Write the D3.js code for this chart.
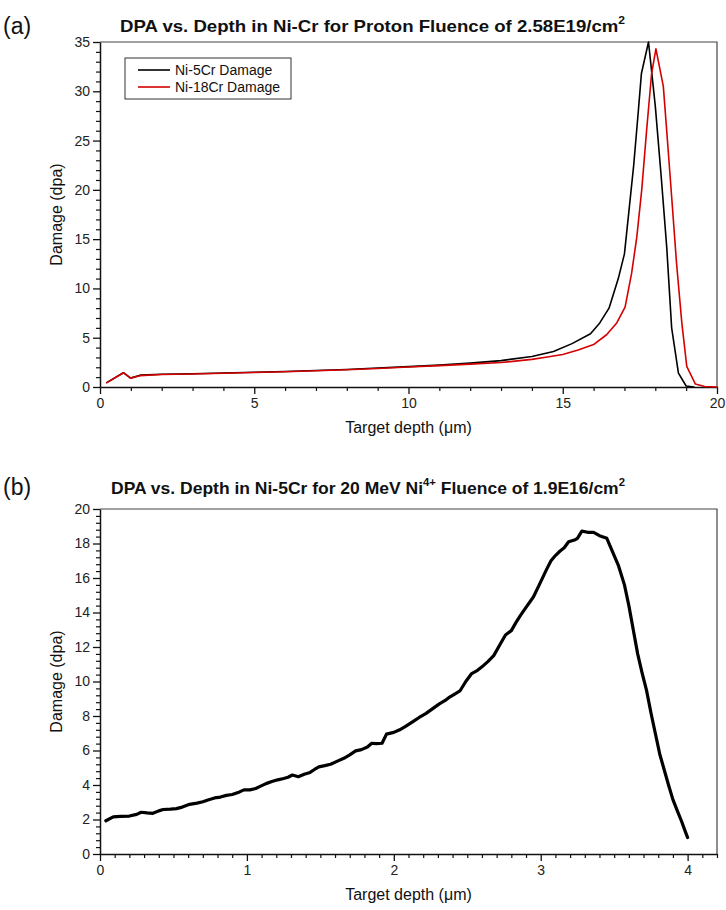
<!DOCTYPE html>
<html><head><meta charset="utf-8">
<script src="https://cdn.jsdelivr.net/npm/d3@7"></script>
<style>body{margin:0;background:#fff}svg{display:block}text{font-family:"Liberation Sans",Arial,sans-serif}</style>
</head><body>
<svg id="c" width="726" height="910"></svg>
<script>
// ---------- data: panel (a) proton damage ----------
const depthA5 = [0.22,0.76,0.99,1.3,2,3,4,5,6,7,8,9,10,11,12,13,14,14.7,15.3,15.9,16.2,16.5,16.8,17.0,17.15,17.3,17.45,17.55,17.78,18.0,18.2,18.37,18.53,18.75,19.0,19.25];
const dpaA5   = [0.45,1.45,0.9,1.2,1.3,1.35,1.42,1.5,1.58,1.68,1.78,1.92,2.07,2.22,2.42,2.68,3.1,3.6,4.4,5.4,6.5,8.0,11.0,13.5,18.0,22.5,28.0,31.8,35.0,28.5,21.0,14.2,6.0,1.4,0.1,0.0];
const depthA18 = [0.22,0.76,0.99,1.3,2,3,4,5,6,7,8,9,10,11,12,13,14,14.5,15,15.5,16,16.42,16.75,17.02,17.23,17.4,17.56,17.72,17.88,18.02,18.26,18.37,18.53,18.69,18.86,19.02,19.3,19.6,20];
const dpaA18   = [0.45,1.45,0.9,1.15,1.27,1.32,1.4,1.47,1.55,1.65,1.75,1.88,2.03,2.17,2.32,2.48,2.8,3.05,3.3,3.75,4.3,5.3,6.5,8.1,11.5,15.2,20.0,26.1,31.8,34.3,30.5,26.0,19.3,12.5,6.5,2.1,0.3,0.05,0.0];
const seriesNamesA = ["Ni-5Cr Damage","Ni-18Cr Damage"];
const seriesColorsA = ["#000000","#d40000"];

// ---------- data: panel (b) Ni ion damage ----------
const depthB = [0.04,0.09,0.14,0.20,0.25,0.28,0.32,0.36,0.40,0.43,0.48,0.52,0.56,0.61,0.66,0.70,0.74,0.78,0.82,0.86,0.90,0.95,0.98,1.02,1.06,1.09,1.13,1.17,1.21,1.25,1.28,1.31,1.35,1.39,1.43,1.46,1.49,1.53,1.57,1.62,1.66,1.70,1.74,1.78,1.82,1.85,1.88,1.92,1.95,2.00,2.04,2.08,2.13,2.17,2.22,2.26,2.31,2.35,2.38,2.42,2.45,2.49,2.53,2.57,2.60,2.64,2.68,2.72,2.76,2.80,2.83,2.86,2.90,2.95,2.99,3.04,3.07,3.10,3.13,3.16,3.19,3.23,3.25,3.28,3.32,3.36,3.40,3.45,3.49,3.53,3.57,3.60,3.63,3.66,3.69,3.72,3.75,3.78,3.81,3.84,3.87,3.90,3.93,3.96,3.98,4.00];
const dpaB   = [1.93,2.15,2.18,2.2,2.3,2.42,2.38,2.36,2.5,2.58,2.6,2.63,2.72,2.88,2.95,3.03,3.15,3.25,3.3,3.4,3.45,3.6,3.72,3.72,3.8,3.92,4.08,4.2,4.3,4.38,4.45,4.58,4.48,4.62,4.73,4.9,5.05,5.12,5.2,5.4,5.55,5.75,5.98,6.05,6.2,6.42,6.4,6.42,6.95,7.05,7.2,7.4,7.67,7.9,8.15,8.4,8.7,8.9,9.1,9.3,9.45,10.0,10.46,10.65,10.85,11.15,11.5,12.1,12.7,12.95,13.4,13.8,14.3,14.9,15.6,16.5,17.0,17.3,17.55,17.75,18.1,18.2,18.3,18.72,18.65,18.65,18.45,18.3,17.5,16.7,15.6,14.4,13.0,11.6,10.5,9.5,8.2,7.0,5.8,4.9,4.0,3.15,2.5,1.87,1.4,0.95];

// ---------- tick specs ----------
const xMajorA = [0,5,10,15,20], yMajorA = [0,5,10,15,20,25,30,35];
const xMajorB = [0,1,2,3,4],   yMajorB = [0,2,4,6,8,10,12,14,16,18,20];

const svg = d3.select("#c");

function panel(o){
  const g = svg.append("g");
  const x = d3.scaleLinear().domain(o.xDom).range([o.l, o.r]);
  const y = d3.scaleLinear().domain(o.yDom).range([o.b, o.t]);
  g.append("path").attr("d",`M${o.l},${o.t}H${o.r}V${o.b}`).attr("fill","none").attr("stroke","#444").attr("stroke-width",1.2);
  const xMinor = d3.range(o.xDom[0], o.xDom[1]+1e-9, o.xMinor).filter(v=>!o.xMajor.some(m=>Math.abs(m-v)<1e-6));
  const yMinor = d3.range(o.yDom[0], o.yDom[1]+1e-9, o.yMinor).filter(v=>!o.yMajor.some(m=>Math.abs(m-v)<1e-6));
  g.append("g").attr("transform",`translate(0,${o.b})`).call(d3.axisBottom(x).tickValues(xMinor).tickSize(4).tickSizeOuter(0).tickFormat(""))
    .call(s=>{s.select(".domain").remove(); s.selectAll("line").attr("stroke","#111").attr("stroke-width",1.2);});
  g.append("g").attr("transform",`translate(${o.l},0)`).call(d3.axisLeft(y).tickValues(yMinor).tickSize(4).tickSizeOuter(0).tickFormat(""))
    .call(s=>{s.select(".domain").remove(); s.selectAll("line").attr("stroke","#111").attr("stroke-width",1.2);});
  const xa = g.append("g").attr("transform",`translate(0,${o.b})`).call(d3.axisBottom(x).tickValues(o.xMajor).tickSize(7).tickSizeOuter(0).tickPadding(4).tickFormat(d3.format("d")));
  const ya = g.append("g").attr("transform",`translate(${o.l},0)`).call(d3.axisLeft(y).tickValues(o.yMajor).tickSize(7).tickSizeOuter(0).tickPadding(3).tickFormat(d3.format("d")));
  [xa,ya].forEach(a=>{
    a.select(".domain").attr("stroke","#111").attr("stroke-width",1.5);
    a.selectAll("line").attr("stroke","#111").attr("stroke-width",1.3);
    a.selectAll("text").attr("font-size",14).attr("fill","#222").attr("font-family","Liberation Sans, Arial, sans-serif");
  });
  const line = d3.line().x(d=>x(d[0])).y(d=>y(d[1]));
  o.series.forEach(s=>{
    g.append("path").datum(d3.zip(s.xs, s.ys)).attr("d",line).attr("fill","none")
      .attr("stroke",s.color).attr("stroke-width",s.w).attr("stroke-linejoin","round").attr("stroke-linecap","round");
  });
  g.append("text").attr("x",(o.l+o.r)/2).attr("y",o.xTitleY).attr("text-anchor","middle").attr("font-size",16).attr("fill","#111").text("Target depth (μm)");
  g.append("text").attr("transform",`translate(${o.yTitleX},${(o.t+o.b)/2}) rotate(-90)`).attr("text-anchor","middle").attr("font-size",16).attr("fill","#111").text("Damage (dpa)");
  g.append("text").attr("x",3).attr("y",o.letterY).attr("font-size",23).attr("fill","#111").text(o.letter);
  return {g,x,y};
}

panel({l:100,r:717,t:42,b:387,xDom:[0,20],yDom:[0,35],xMajor:xMajorA,yMajor:yMajorA,xMinor:1,yMinor:1,
  xTitleY:433,yTitleX:62,letter:"(a)",letterY:34,
  series:[{xs:depthA5,ys:dpaA5,color:seriesColorsA[0],w:1.6},{xs:depthA18,ys:dpaA18,color:seriesColorsA[1],w:1.6}]});
panel({l:100,r:717,t:509,b:854,xDom:[0,4.2],yDom:[0,20],xMajor:xMajorB,yMajor:yMajorB,xMinor:0.1,yMinor:0.4,
  xTitleY:900,yTitleX:62,letter:"(b)",letterY:495,
  series:[{xs:depthB,ys:dpaB,color:"#000",w:3.2}]});

function title(yb, parts, x0, len){
  const t = svg.append("text").attr("x",x0).attr("y",yb).attr("font-size",17).attr("font-weight","bold").attr("fill","#111")
     .attr("textLength",len).attr("lengthAdjust","spacingAndGlyphs");
  parts.forEach(p=>{
    const s = t.append("tspan").text(p.t);
    if(p.sup){ s.attr("font-size",11).attr("dy",-8); }
    else if(p.after){ s.attr("dy",8); }
  });
}
title(32,[{t:"DPA vs. Depth in Ni-Cr for Proton Fluence of 2.58E19/cm"},{t:"2",sup:true}],120,505);
title(494,[{t:"DPA vs. Depth in Ni-5Cr for 20 MeV Ni"},{t:"4+",sup:true},{t:" Fluence of 1.9E16/cm",after:true},{t:"2",sup:true}],111,514);

const lg = svg.append("g");
lg.append("rect").attr("x",125).attr("y",58).attr("width",166).attr("height",41).attr("fill","#fff").attr("stroke","#333").attr("stroke-width",1);
seriesNamesA.forEach((n,i)=>{
  const yy = 70 + i*17;
  lg.append("line").attr("x1",138).attr("x2",170).attr("y1",yy).attr("y2",yy).attr("stroke",seriesColorsA[i]).attr("stroke-width",1.6);
  lg.append("text").attr("x",175).attr("y",yy+5).attr("font-size",14).attr("fill","#111").text(n);
});
</script>
</body></html>
